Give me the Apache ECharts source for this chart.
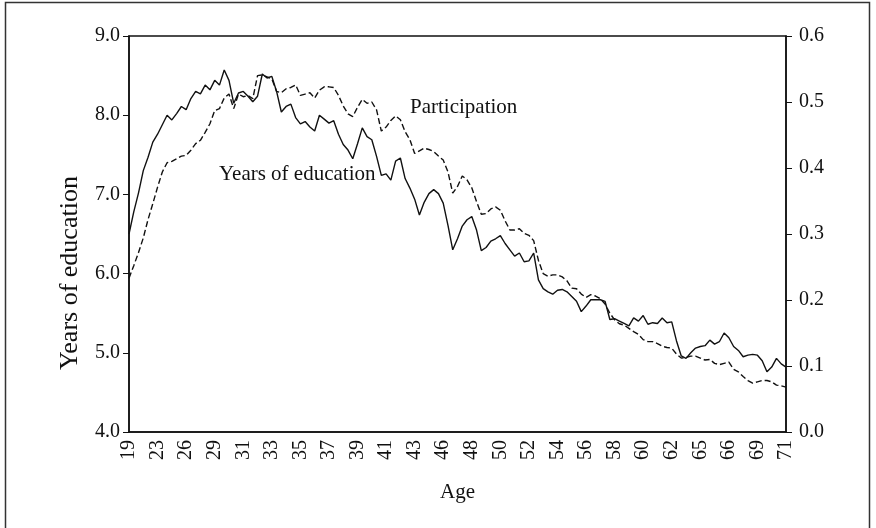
<!DOCTYPE html>
<html>
<head>
<meta charset="utf-8">
<title>Years of education and participation by age</title>
<script src="https://cdn.jsdelivr.net/npm/echarts@6/dist/echarts.min.js"></script>
<style>
  html, body { margin: 0; padding: 0; background: #fff; }
  #chart { width: 876px; height: 528px; }
</style>
</head>
<body>
<div id="chart"></div>
<script>
// age labels shown under the axis (one every 6 points)
const ageTicks = ['19', '23', '26', '29', '31', '33', '35', '37', '39', '41', '43', '46',
  '48', '50', '52', '54', '56', '58', '60', '62', '65', '66', '69', '71']
const labelStep = 6

// years of education (left axis)
const education = [
  6.50, 6.78, 7.02, 7.30, 7.47, 7.66, 7.76, 7.88, 8.00, 7.94, 8.02, 8.11,
  8.07, 8.21, 8.30, 8.27, 8.38, 8.32, 8.44, 8.38, 8.57, 8.44, 8.15, 8.28,
  8.30, 8.24, 8.17, 8.24, 8.52, 8.47, 8.49, 8.30, 8.04, 8.11, 8.14, 7.97,
  7.89, 7.92, 7.85, 7.80, 8.00, 7.95, 7.90, 7.93, 7.76, 7.63, 7.56, 7.45,
  7.64, 7.84, 7.73, 7.69, 7.48, 7.24, 7.26, 7.18, 7.42, 7.46, 7.20, 7.08,
  6.94, 6.74, 6.90, 7.01, 7.06, 7.01, 6.89, 6.61, 6.30, 6.44, 6.60, 6.68,
  6.72, 6.55, 6.29, 6.33, 6.41, 6.44, 6.48, 6.38, 6.30, 6.22, 6.26, 6.15,
  6.16, 6.26, 5.92, 5.81, 5.77, 5.74, 5.79, 5.80, 5.77, 5.71, 5.65, 5.52,
  5.59, 5.67, 5.67, 5.67, 5.65, 5.42, 5.43, 5.40, 5.37, 5.34, 5.44, 5.40,
  5.47, 5.36, 5.38, 5.37, 5.44, 5.38, 5.39, 5.15, 4.96, 4.93, 5.00, 5.06,
  5.08, 5.09, 5.16, 5.11, 5.14, 5.25, 5.19, 5.08, 5.03, 4.95, 4.97, 4.98,
  4.97, 4.90, 4.76, 4.82, 4.93, 4.86, 4.82
]

// participation rate (right axis)
const participation = [
  0.233, 0.252, 0.272, 0.294, 0.322, 0.346, 0.371, 0.394, 0.408, 0.410, 0.414, 0.418,
  0.419, 0.427, 0.437, 0.442, 0.454, 0.467, 0.487, 0.490, 0.506, 0.512, 0.490, 0.512,
  0.508, 0.510, 0.505, 0.540, 0.541, 0.538, 0.535, 0.516, 0.514, 0.520, 0.522, 0.526,
  0.510, 0.512, 0.514, 0.506, 0.518, 0.523, 0.523, 0.522, 0.510, 0.494, 0.482, 0.478,
  0.492, 0.504, 0.498, 0.500, 0.488, 0.456, 0.462, 0.472, 0.479, 0.473, 0.455, 0.443,
  0.422, 0.426, 0.430, 0.428, 0.425, 0.418, 0.412, 0.394, 0.362, 0.372, 0.388, 0.382,
  0.370, 0.349, 0.330, 0.331, 0.338, 0.341, 0.336, 0.320, 0.306, 0.306, 0.308, 0.301,
  0.298, 0.290, 0.260, 0.240, 0.236, 0.238, 0.238, 0.235, 0.229, 0.218, 0.217, 0.209,
  0.204, 0.208, 0.206, 0.202, 0.194, 0.180, 0.170, 0.164, 0.162, 0.157, 0.152, 0.148,
  0.140, 0.137, 0.137, 0.134, 0.130, 0.128, 0.127, 0.118, 0.112, 0.113, 0.115, 0.115,
  0.112, 0.109, 0.110, 0.104, 0.102, 0.104, 0.106, 0.095, 0.091, 0.084, 0.078, 0.074,
  0.076, 0.078, 0.078, 0.076, 0.071, 0.070, 0.068
]

const categories = education.map((v, i) => String(i))

const serif = "'Liberation Serif', 'DejaVu Serif', serif"
const ink = '#111'

const chart = echarts.init(document.getElementById('chart'))

chart.setOption({
  animation: false,
  backgroundColor: '#fff',
  grid: {
    left: 129,
    right: 90,
    top: 36,
    bottom: 96,
    show: true,
    borderColor: ink,
    borderWidth: 1.5
  },
  xAxis: {
    type: 'category',
    data: categories,
    boundaryGap: false,
    name: 'Age',
    nameLocation: 'middle',
    nameGap: 50,
    nameTextStyle: { fontFamily: serif, fontSize: 21, color: ink },
    axisLine: { lineStyle: { color: ink, width: 1.5 } },
    axisTick: { show: false },
    splitLine: { show: false },
    axisLabel: {
      interval: labelStep - 1,
      rotate: 90,
      margin: 8,
      fontFamily: serif,
      fontSize: 20,
      color: ink,
      formatter: (val, idx) => ageTicks[idx / labelStep]
    }
  },
  yAxis: [
    {
      type: 'value',
      min: 4,
      max: 9,
      interval: 1,
      position: 'left',
      axisLine: { show: true, lineStyle: { color: ink, width: 1.5 } },
      axisTick: { show: true, length: 6, lineStyle: { color: ink } },
      splitLine: { show: false },
      axisLabel: {
        margin: 9,
        fontFamily: serif,
        fontSize: 20,
        color: ink,
        formatter: v => v.toFixed(1)
      }
    },
    {
      type: 'value',
      min: 0,
      max: 0.6,
      interval: 0.1,
      position: 'right',
      axisLine: { show: true, lineStyle: { color: ink, width: 1.5 } },
      axisTick: { show: true, length: 6, lineStyle: { color: ink } },
      splitLine: { show: false },
      axisLabel: {
        margin: 13,
        fontFamily: serif,
        fontSize: 20,
        color: ink,
        formatter: v => v.toFixed(1)
      }
    }
  ],
  series: [
    {
      name: 'Years of education',
      type: 'line',
      yAxisIndex: 0,
      data: education,
      showSymbol: false,
      lineStyle: { color: ink, width: 1.4 }
    },
    {
      name: 'Participation',
      type: 'line',
      yAxisIndex: 1,
      data: participation,
      showSymbol: false,
      lineStyle: { color: ink, width: 1.4, type: [6, 3] }
    }
  ],
  graphic: [
    // outer frame of the figure
    {
      type: 'rect',
      shape: { x: 5.5, y: 2.5, width: 864, height: 540 },
      style: { fill: 'none', stroke: '#333', lineWidth: 1.5 },
      silent: true
    },
    // left axis title, a bit below the middle like the original
    {
      type: 'text',
      x: 70,
      y: 273,
      rotation: Math.PI / 2,
      style: {
        text: 'Years of education',
        fontFamily: serif,
        fontSize: 26,
        fill: ink,
        align: 'center',
        verticalAlign: 'middle'
      }
    },
    {
      type: 'text',
      x: 410,
      y: 107,
      style: {
        text: 'Participation',
        fontFamily: serif,
        fontSize: 21,
        fill: ink,
        align: 'left',
        verticalAlign: 'middle'
      }
    },
    {
      type: 'text',
      x: 219,
      y: 174,
      style: {
        text: 'Years of education',
        fontFamily: serif,
        fontSize: 21,
        fill: ink,
        align: 'left',
        verticalAlign: 'middle'
      }
    }
  ]
})
</script>
</body>
</html>
